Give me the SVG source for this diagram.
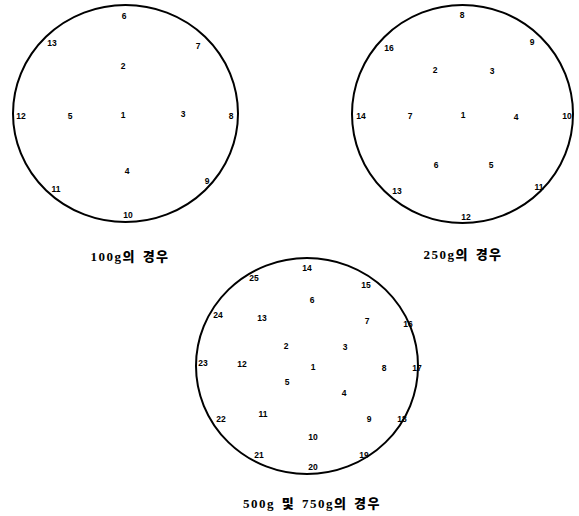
<svg xmlns="http://www.w3.org/2000/svg" width="579" height="516" viewBox="0 0 579 516">
<style>
.c{fill:none;stroke:#000;stroke-width:2}
.n{font-family:"Liberation Sans",Arial,sans-serif;font-weight:bold;font-size:8.5px;fill:#000;text-anchor:middle;dominant-baseline:central}
.cap{font-family:"Liberation Serif","Noto Sans CJK KR",serif;font-weight:900;font-size:13px;letter-spacing:1.5px;word-spacing:2px;fill:#000;text-anchor:middle;dominant-baseline:central}
</style>
<rect width="579" height="516" fill="#fff"/>
<g id="plate-100g">
<ellipse class="c" cx="125.5" cy="113.5" rx="112.5" ry="108.5"/>
<text class="n" x="124" y="16">6</text>
<text class="n" x="52" y="43">13</text>
<text class="n" x="198" y="46">7</text>
<text class="n" x="123" y="66">2</text>
<text class="n" x="21" y="116">12</text>
<text class="n" x="70" y="116">5</text>
<text class="n" x="123" y="115">1</text>
<text class="n" x="183" y="114">3</text>
<text class="n" x="231" y="116">8</text>
<text class="n" x="127" y="171">4</text>
<text class="n" x="207" y="181">9</text>
<text class="n" x="56" y="189">11</text>
<text class="n" x="128" y="215">10</text>
<text class="cap" x="130" y="256">100g의 경우</text>
</g>
<g id="plate-250g">
<ellipse class="c" cx="462.5" cy="114" rx="110.5" ry="109"/>
<text class="n" x="462" y="15">8</text>
<text class="n" x="389" y="48">16</text>
<text class="n" x="532" y="42">9</text>
<text class="n" x="435" y="70">2</text>
<text class="n" x="492" y="71">3</text>
<text class="n" x="361" y="116">14</text>
<text class="n" x="410" y="116">7</text>
<text class="n" x="463" y="115">1</text>
<text class="n" x="516" y="117">4</text>
<text class="n" x="567" y="116">10</text>
<text class="n" x="436" y="165">6</text>
<text class="n" x="491" y="165">5</text>
<text class="n" x="397" y="191">13</text>
<text class="n" x="539" y="187">11</text>
<text class="n" x="466" y="217">12</text>
<text class="cap" x="463" y="254">250g의 경우</text>
</g>
<g id="plate-500g-750g">
<ellipse class="c" cx="307" cy="366" rx="111" ry="108"/>
<text class="n" x="307" y="268">14</text>
<text class="n" x="254" y="278">25</text>
<text class="n" x="366" y="285">15</text>
<text class="n" x="312" y="300">6</text>
<text class="n" x="218" y="315">24</text>
<text class="n" x="262" y="318">13</text>
<text class="n" x="367" y="321">7</text>
<text class="n" x="408" y="324">16</text>
<text class="n" x="286" y="346">2</text>
<text class="n" x="345" y="347">3</text>
<text class="n" x="203" y="363">23</text>
<text class="n" x="242" y="364">12</text>
<text class="n" x="313" y="367">1</text>
<text class="n" x="384" y="368">8</text>
<text class="n" x="417" y="368">17</text>
<text class="n" x="287" y="382">5</text>
<text class="n" x="344" y="393">4</text>
<text class="n" x="263" y="414">11</text>
<text class="n" x="221" y="419">22</text>
<text class="n" x="369" y="419">9</text>
<text class="n" x="402" y="419">18</text>
<text class="n" x="313" y="437">10</text>
<text class="n" x="259" y="455">21</text>
<text class="n" x="364" y="455">19</text>
<text class="n" x="313" y="467">20</text>
<text class="cap" x="312" y="503">500g 및 750g의 경우</text>
</g>
</svg>
